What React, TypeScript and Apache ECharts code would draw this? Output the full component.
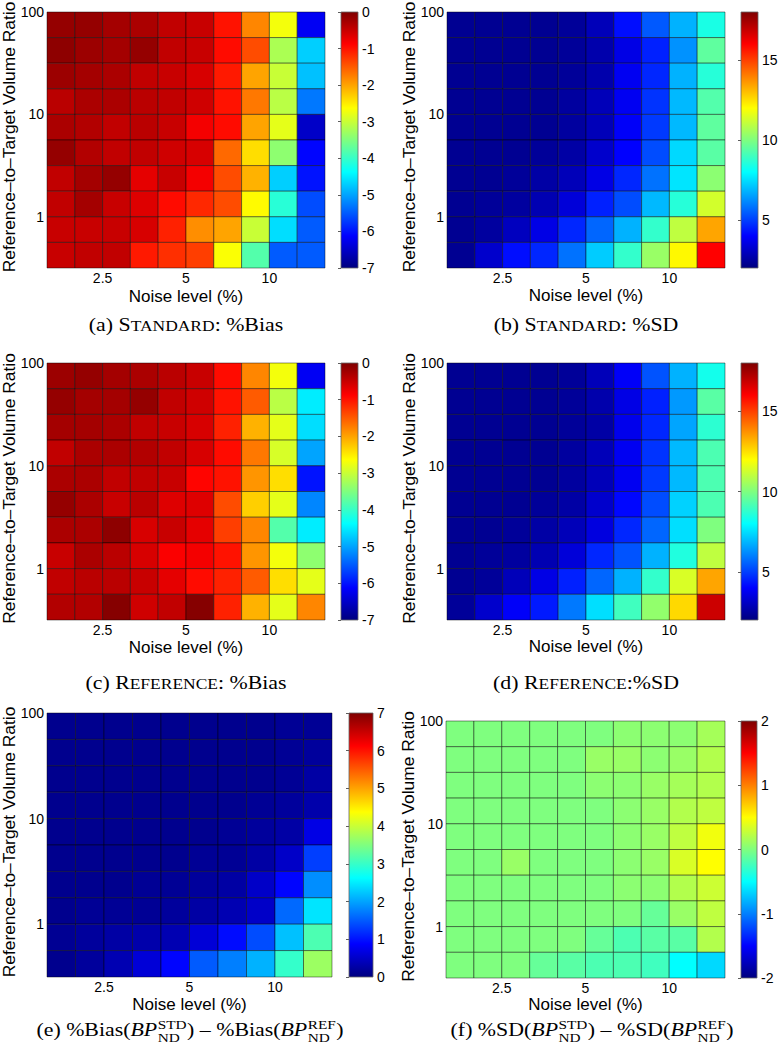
import React, { useEffect, useRef } from "react";
import * as echarts from "echarts";

// ---------- data (rows listed top → bottom, columns left → right) ----------
const noiseTickPos = [2, 5, 8];
const noiseTickLabels = ["2.5", "5", "10"];
const ratioTickPos = [2, 6, 10];
const ratioTickLabels = ["1", "10", "100"];

const stdBias = [
  [-0.15, -0.15, -0.25, -0.3, -0.45, -0.5, -1.0, -1.8, -2.7, -6.2],
  [-0.1, -0.2, -0.25, -0.15, -0.45, -0.5, -0.95, -1.4, -3.2, -4.7],
  [-0.2, -0.25, -0.3, -0.45, -0.5, -0.6, -1.05, -2.0, -3.0, -4.8],
  [-0.4, -0.3, -0.3, -0.4, -0.45, -0.55, -1.0, -1.7, -3.1, -5.3],
  [-0.3, -0.35, -0.45, -0.4, -0.5, -0.8, -0.95, -2.0, -2.8, -6.5],
  [-0.15, -0.35, -0.45, -0.45, -0.55, -0.6, -1.6, -2.4, -3.4, -6.1],
  [-0.45, -0.25, -0.15, -0.7, -0.5, -0.8, -1.4, -2.1, -4.7, -6.0],
  [-0.45, -0.25, -0.5, -0.65, -0.95, -1.15, -1.4, -2.6, -4.1, -5.6],
  [-0.5, -0.5, -0.5, -0.6, -1.1, -1.85, -2.0, -3.0, -4.6, -5.5],
  [-0.5, -0.45, -0.45, -1.05, -1.2, -1.3, -2.65, -3.8, -5.5, -5.5],
];

const stdSD = [
  [2.3, 2.3, 2.3, 2.3, 2.4, 2.9, 4.2, 5.4, 6.8, 8.4],
  [2.3, 2.3, 2.3, 2.3, 2.4, 2.7, 3.6, 4.5, 6.3, 9.5],
  [2.3, 2.3, 2.3, 2.3, 2.4, 2.7, 3.8, 4.6, 6.8, 8.6],
  [2.3, 2.3, 2.3, 2.3, 2.5, 2.9, 3.8, 4.8, 6.9, 9.3],
  [2.3, 2.3, 2.3, 2.3, 2.5, 2.9, 3.9, 4.9, 6.9, 9.5],
  [2.3, 2.3, 2.3, 2.4, 2.6, 3.2, 4.0, 5.2, 7.4, 9.4],
  [2.3, 2.3, 2.4, 2.6, 2.9, 3.6, 4.6, 5.8, 7.6, 10.2],
  [2.3, 2.4, 2.5, 2.8, 3.4, 4.5, 5.2, 6.9, 8.6, 11.3],
  [2.3, 2.5, 3.0, 3.6, 4.6, 5.6, 6.8, 8.8, 11.0, 13.4],
  [2.3, 3.2, 4.2, 4.6, 5.8, 7.2, 8.8, 10.4, 12.1, 16.0],
];

const refBias = [
  [-0.2, -0.15, -0.25, -0.3, -0.4, -0.5, -0.95, -1.8, -2.7, -6.2],
  [-0.15, -0.25, -0.25, -0.15, -0.45, -0.55, -1.0, -1.5, -3.1, -4.5],
  [-0.25, -0.25, -0.3, -0.45, -0.5, -0.6, -1.1, -2.1, -2.8, -4.6],
  [-0.45, -0.3, -0.3, -0.35, -0.45, -0.6, -0.95, -1.7, -2.9, -5.0],
  [-0.3, -0.3, -0.45, -0.45, -0.5, -0.9, -1.0, -1.9, -2.4, -6.0],
  [-0.15, -0.3, -0.5, -0.4, -0.65, -0.65, -1.4, -2.3, -2.8, -5.2],
  [-0.3, -0.3, -0.1, -0.6, -0.5, -0.7, -1.3, -1.8, -3.8, -4.5],
  [-0.5, -0.3, -0.4, -0.6, -0.85, -0.8, -1.0, -1.9, -2.7, -3.4],
  [-0.45, -0.4, -0.4, -0.5, -0.7, -0.95, -1.1, -1.5, -2.4, -2.8],
  [-0.35, -0.35, -0.05, -0.55, -0.45, -0.05, -1.1, -2.1, -2.8, -1.8],
];

const refSD = [
  [2.3, 2.3, 2.3, 2.3, 2.4, 2.9, 3.9, 5.3, 6.8, 8.3],
  [2.3, 2.3, 2.3, 2.3, 2.4, 2.7, 3.6, 4.5, 6.4, 9.4],
  [2.3, 2.3, 2.3, 2.3, 2.4, 2.6, 3.7, 4.6, 6.6, 8.7],
  [2.3, 2.3, 2.3, 2.3, 2.5, 2.9, 3.8, 4.8, 6.9, 9.2],
  [2.3, 2.3, 2.3, 2.3, 2.5, 2.9, 3.8, 4.9, 6.9, 9.2],
  [2.3, 2.3, 2.3, 2.4, 2.6, 3.2, 4.1, 5.2, 7.3, 9.2],
  [2.3, 2.3, 2.4, 2.6, 2.9, 3.5, 4.6, 5.6, 7.5, 10.0],
  [2.3, 2.4, 2.5, 2.8, 3.4, 4.6, 5.3, 6.8, 8.5, 11.0],
  [2.3, 2.4, 2.9, 3.6, 4.5, 5.6, 6.8, 8.8, 11.4, 13.4],
  [2.4, 3.2, 3.9, 4.4, 5.9, 7.5, 9.0, 10.3, 12.6, 16.8],
];

const diffBias = [
  [0.1, 0.1, 0.1, 0.1, 0.1, 0.1, 0.1, 0.1, 0.15, 0.15],
  [0.1, 0.1, 0.1, 0.1, 0.1, 0.1, 0.1, 0.1, 0.15, 0.2],
  [0.1, 0.1, 0.1, 0.1, 0.1, 0.1, 0.1, 0.1, 0.15, 0.25],
  [0.1, 0.1, 0.1, 0.1, 0.1, 0.1, 0.1, 0.15, 0.2, 0.3],
  [0.1, 0.1, 0.1, 0.1, 0.1, 0.1, 0.15, 0.2, 0.26, 0.7],
  [0.1, 0.1, 0.1, 0.1, 0.1, 0.15, 0.15, 0.25, 0.5, 1.3],
  [0.1, 0.1, 0.1, 0.15, 0.15, 0.2, 0.25, 0.5, 0.9, 1.85],
  [0.1, 0.15, 0.15, 0.15, 0.2, 0.25, 0.35, 0.5, 1.6, 2.45],
  [0.14, 0.2, 0.25, 0.3, 0.35, 0.6, 0.95, 1.4, 2.2, 3.15],
  [0.1, 0.2, 0.35, 0.6, 0.9, 1.5, 1.75, 2.1, 2.98, 3.7],
];

const diffSD = [
  [0, 0, 0, 0, 0, 0, 0.05, 0.05, 0.05, 0.15],
  [0, 0, 0, 0, 0, 0.1, 0.1, 0.05, 0.1, 0.2],
  [0, 0, 0, 0, 0, 0.05, 0.05, 0.1, 0.15, 0.2],
  [0, 0, 0, 0, 0, 0, 0.05, 0.1, 0.2, 0.25],
  [0, 0, 0, 0, 0, 0, 0.05, 0.1, 0.25, 0.45],
  [0, 0, 0.1, 0, 0, 0, 0.05, 0.1, 0.35, 0.5],
  [0, 0, 0, 0, 0, 0, 0.05, 0.05, 0.2, 0.3],
  [0, 0, 0, 0, 0, 0, 0, -0.1, 0.1, 0.25],
  [0, 0, 0, 0, 0, -0.1, -0.2, -0.15, -0.15, 0.2],
  [0, 0, 0, -0.1, -0.15, -0.2, -0.2, -0.25, -0.5, -0.65],
];

const biasTicks = [-7, -6, -5, -4, -3, -2, -1, 0];
const sdTicks = [5, 10, 15];
const diffBiasTicks = [0, 1, 2, 3, 4, 5, 6, 7];
const diffSDTicks = [-2, -1, 0, 1, 2];

// ---------- styling / layout ----------
const JET = ["#00007F", "#0000FF", "#007FFF", "#00FFFF", "#7FFF7F", "#FFFF00", "#FF7F00", "#FF0000", "#7F0000"];
const SANS = "'Liberation Sans', Arial, Helvetica, sans-serif";
const SERIF = "'Liberation Serif', 'Times New Roman', serif";
const CAP_SIZE = 19;
const CAP_SX = 1.15;

type Piece = { t?: string; s?: number; it?: boolean; sup?: string; sub?: string };

const panels = [
  {
    data: stdBias, min: -7, max: 0, ticks: biasTicks,
    plot: [47, 12, 278, 256], cb: [341, 12, 17, 256], xNameY: 296, capX: 186, capY: 326,
    cap: [{ t: "(a) " }, { t: "S" }, { t: "TANDARD", s: 0.8 }, { t: ": %Bias" }] as Piece[],
  },
  {
    data: stdSD, min: 2, max: 18, ticks: sdTicks,
    plot: [447, 12, 278, 256], cb: [741, 12, 17, 256], xNameY: 295.5, capX: 586, capY: 326,
    cap: [{ t: "(b) " }, { t: "S" }, { t: "TANDARD", s: 0.8 }, { t: ": %SD" }] as Piece[],
  },
  {
    data: refBias, min: -7, max: 0, ticks: biasTicks,
    plot: [47, 363, 278, 257], cb: [341, 363, 17, 257], xNameY: 647, capX: 186, capY: 684,
    cap: [{ t: "(c) " }, { t: "R" }, { t: "EFERENCE", s: 0.8 }, { t: ": %Bias" }] as Piece[],
  },
  {
    data: refSD, min: 2, max: 18, ticks: sdTicks,
    plot: [447, 363, 278, 257], cb: [741, 363, 17, 257], xNameY: 646.5, capX: 586, capY: 684,
    cap: [{ t: "(d) " }, { t: "R" }, { t: "EFERENCE", s: 0.8 }, { t: ":%SD" }] as Piece[],
  },
  {
    data: diffBias, min: 0, max: 7, ticks: diffBiasTicks,
    plot: [47, 713, 285, 264], cb: [349, 713, 24, 264], xNameY: 1004, capX: 190, capY: 1031,
    cap: [
      { t: "(e) %Bias(" }, { t: "BP", it: true }, { sup: "STD", sub: "ND" },
      { t: ") – %Bias(" }, { t: "BP", it: true }, { sup: "REF", sub: "ND" }, { t: ")" },
    ] as Piece[],
  },
  {
    data: diffSD, min: -2, max: 2, ticks: diffSDTicks,
    plot: [446, 721, 279, 257], cb: [741, 721, 16, 257], xNameY: 1004, capX: 592, capY: 1031,
    cap: [
      { t: "(f) %SD(" }, { t: "BP", it: true }, { sup: "STD", sub: "ND" },
      { t: ") – %SD(" }, { t: "BP", it: true }, { sup: "REF", sub: "ND" }, { t: ")" },
    ] as Piece[],
  },
];

let measureCtx: CanvasRenderingContext2D | null = null;
function measure(text: string, size: number, italic = false) {
  if (!measureCtx) measureCtx = document.createElement("canvas").getContext("2d");
  measureCtx!.font = `${italic ? "italic " : ""}${size}px ${SERIF}`;
  return measureCtx!.measureText(text).width * CAP_SX;
}

function captionElements(pieces: Piece[], cx: number, cy: number) {
  const base = CAP_SIZE;
  const scr = base * 0.7;
  const widths = pieces.map((p) =>
    p.t !== undefined ? measure(p.t, base * (p.s || 1), !!p.it) : Math.max(measure(p.sup!, scr), measure(p.sub!, scr)) + 1
  );
  const total = widths.reduce((a, b) => a + b, 0);
  const baseline = cy + base * 0.3;
  let x = cx - total / 2;
  const els: any[] = [];
  const txt = (text: string, px: number, size: number, bl: number, italic = false) => ({
    type: "text",
    x: px,
    y: bl - size * 0.36,
    scaleX: CAP_SX,
    style: {
      text, fontSize: size, fontFamily: SERIF, fontStyle: italic ? "italic" : "normal",
      fill: "#000", align: "left", verticalAlign: "middle",
    },
  });
  pieces.forEach((p, i) => {
    if (p.t !== undefined) {
      els.push(txt(p.t, x, base * (p.s || 1), baseline, !!p.it));
    } else {
      els.push(txt(p.sup!, x + 0.5, scr, baseline - base * 0.42));
      els.push(txt(p.sub!, x + 0.5, scr, baseline + base * 0.28));
    }
    x += widths[i];
  });
  return els;
}

function buildOption() {
  const grid: any[] = [];
  const xAxis: any[] = [];
  const yAxis: any[] = [];
  const series: any[] = [];
  const visualMap: any[] = [];
  const graphic: any[] = [];
  const cbSeries: any[] = [];

  panels.forEach((p, i) => {
    const [pl, pt, pw, ph] = p.plot;
    const [cl, ct, cw, ch] = p.cb;
    const gi = i * 2;
    const ci = i * 2 + 1;
    grid.push({ left: pl, top: pt, width: pw, height: ph });
    grid.push({ left: cl, top: ct, width: cw, height: ch });

    xAxis.push({
      gridIndex: gi, type: "value", min: 0, max: 10,
      splitLine: { show: false }, axisLine: { show: false }, axisTick: { show: false },
      axisLabel: {
        customValues: noiseTickPos, margin: 3, fontSize: 14, fontFamily: SANS, color: "#000",
        formatter: (v: number) => noiseTickLabels[noiseTickPos.indexOf(v)] ?? "",
      },
    });
    yAxis.push({
      gridIndex: gi, type: "value", min: 0, max: 10,
      splitLine: { show: false }, axisLine: { show: false }, axisTick: { show: false },
      axisLabel: {
        customValues: ratioTickPos, margin: 3, fontSize: 14, fontFamily: SANS, color: "#000",
        formatter: (v: number) => ratioTickLabels[ratioTickPos.indexOf(v)] ?? "",
      },
    });
    xAxis.push({ gridIndex: ci, type: "value", min: 0, max: 1, show: false });
    yAxis.push({
      gridIndex: ci, type: "value", min: p.min, max: p.max, position: "right",
      splitLine: { show: false }, axisLine: { show: false },
      axisTick: { show: true, inside: true, length: 3, customValues: p.ticks, lineStyle: { color: "#333", width: 0.8 } },
      axisLabel: {
        customValues: p.ticks, margin: 4, fontSize: 14, fontFamily: SANS, color: "#000",
        formatter: (v: number) => String(v),
      },
    });

    const cells: number[][] = [];
    p.data.forEach((row, r) => row.forEach((v, c) => cells.push([c, 9 - r, v])));

    series.push({
      type: "custom", xAxisIndex: gi, yAxisIndex: gi, data: cells,
      encode: { x: 0, y: 1 },
      renderItem: (_params: any, api: any) => {
        const c = api.value(0);
        const r = api.value(1);
        const p0 = api.coord([c, r + 1]);
        const p1 = api.coord([c + 1, r]);
        return {
          type: "rect",
          shape: { x: p0[0], y: p0[1], width: p1[0] - p0[0], height: p1[1] - p0[1] },
          style: { fill: api.visual("color"), stroke: "rgba(0,0,0,0.55)", lineWidth: 0.8 },
        };
      },
    });
    visualMap.push({
      type: "continuous", show: false, seriesIndex: i, dimension: 2,
      min: p.min, max: p.max, inRange: { color: JET },
    });

    cbSeries.push({
      type: "custom", xAxisIndex: ci, yAxisIndex: ci, data: [[0, p.min, p.max]],
      renderItem: (_params: any, api: any) => {
        const p0 = api.coord([0, api.value(2)]);
        const p1 = api.coord([1, api.value(1)]);
        return {
          type: "rect",
          shape: { x: p0[0], y: p0[1], width: p1[0] - p0[0], height: p1[1] - p0[1] },
          style: {
            fill: new echarts.graphic.LinearGradient(0, 1, 0, 0,
              JET.map((c, k) => ({ offset: k / (JET.length - 1), color: c }))),
            stroke: "#666", lineWidth: 0.8,
          },
        };
      },
    });

    graphic.push({
      type: "text", x: pl - 38.5, y: pt + ph / 2 - 3, rotation: Math.PI / 2,
      style: {
        text: "Reference–to–Target Volume Ratio", fontSize: 17.4, fontFamily: SANS,
        fill: "#000", align: "center", verticalAlign: "middle",
      },
    });
    graphic.push({
      type: "text", x: pl + pw / 2, y: p.xNameY,
      style: {
        text: "Noise level (%)", fontSize: 17, fontFamily: SANS,
        fill: "#000", align: "center", verticalAlign: "middle",
      },
    });
    captionElements(p.cap, p.capX, p.capY).forEach((e) => graphic.push(e));
  });

  return {
    animation: false,
    backgroundColor: "#fff",
    grid, xAxis, yAxis, visualMap,
    series: [...series, ...cbSeries],
    graphic,
  };
}

export default function App() {
  const ref = useRef<HTMLDivElement>(null);
  useEffect(() => {
    if (!ref.current) return;
    const chart = echarts.init(ref.current, undefined, { renderer: "svg" });
    chart.setOption(buildOption() as any);
    return () => chart.dispose();
  }, []);
  return (
    <div
      ref={ref}
      style={{ position: "absolute", left: 0, top: 0, width: 784, height: 1050, background: "#fff" }}
    />
  );
}
